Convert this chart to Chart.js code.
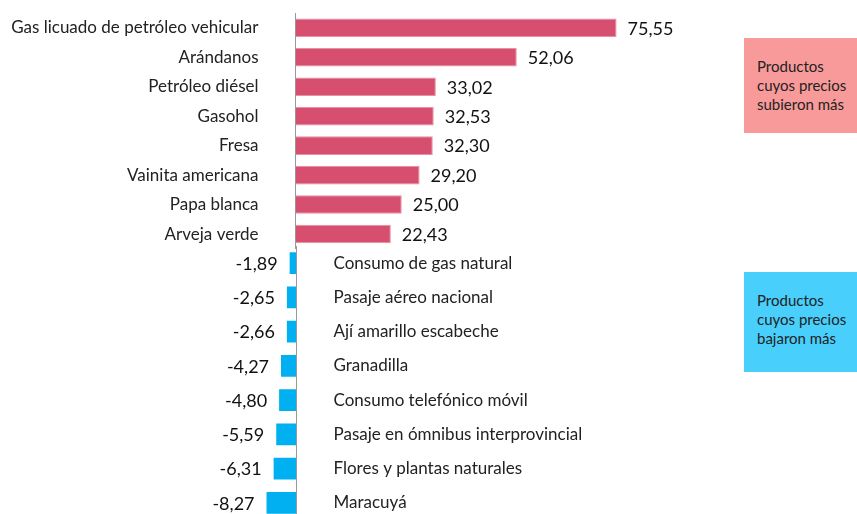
<!DOCTYPE html>
<html>
<head>
<meta charset="utf-8">
<script src="https://cdn.jsdelivr.net/npm/chart.js@4"></script>
<style>
  html, body { margin: 0; padding: 0; background: #fff; overflow: hidden; }
  body { width: 857px; height: 514px; position: relative; font-family: Lato, sans-serif; }
  canvas { position: absolute; left: 0; }
  #up { top: 0; }
  #down { top: 246px; }
  .box { position: absolute; left: 744px; width: 113px; box-sizing: border-box;
         padding: 0 0 0 13px; font-size: 15px; line-height: 19px; color: #222; }
  #boxUp { top: 38px; height: 95px; background: #f99a9a; padding-top: 19px; }
  #boxDown { top: 272px; height: 100px; background: #48cffc; padding-top: 19px; }
</style>
</head>
<body>
<canvas id="up" width="857" height="259"></canvas>
<canvas id="down" width="857" height="274"></canvas>
<div class="box" id="boxUp">Productos<br>cuyos precios<br>subieron más</div>
<div class="box" id="boxDown">Productos<br>cuyos precios<br>bajaron más</div>
<script>
const upLabels = ['Gas licuado de petróleo vehicular', 'Arándanos', 'Petróleo diésel', 'Gasohol',
  'Fresa', 'Vainita americana', 'Papa blanca', 'Arveja verde'];
const upValues = [75.55, 52.06, 33.02, 32.53, 32.30, 29.20, 25.00, 22.43];

const downLabels = ['Consumo de gas natural', 'Pasaje aéreo nacional', 'Ají amarillo escabeche',
  'Granadilla', 'Consumo telefónico móvil', 'Pasaje en ómnibus interprovincial',
  'Flores y plantas naturales', 'Maracuyá'];
const downValues = [-1.89, -2.65, -2.66, -4.27, -4.80, -5.59, -6.31, -8.27];

const FONT = 'Lato, sans-serif';
const fmt = v => v.toFixed(2).replace('.', ',');

// writes value labels (and the category labels of the lower chart) next to each bar
const barText = {
  id: 'barText',
  afterDatasetsDraw(chart) {
    const ctx = chart.ctx;
    const meta = chart.getDatasetMeta(0);
    const zero = chart.scales.x.getPixelForValue(0);
    ctx.save();
    ctx.textBaseline = 'middle';
    meta.data.forEach((bar, i) => {
      const v = chart.data.datasets[0].data[i];
      ctx.fillStyle = '#111';
      ctx.font = '18px ' + FONT;
      if (v >= 0) {
        ctx.textAlign = 'left';
        ctx.fillText(fmt(v), bar.x + 11, bar.y + 1);
      } else {
        ctx.textAlign = 'right';
        ctx.fillText(fmt(v), bar.x - 12, bar.y + 1);
        ctx.font = '17px ' + FONT;
        ctx.textAlign = 'left';
        ctx.fillStyle = '#222';
        ctx.fillText(chart.data.labels[i], zero + 37, bar.y);
      }
    });
    ctx.restore();
  }
};

new Chart(document.getElementById('up'), {
  type: 'bar',
  data: {
    labels: upLabels,
    datasets: [{ data: upValues, backgroundColor: '#d64f6e', borderColor: '#e890a4', borderWidth: 1,
      categoryPercentage: 1, barPercentage: 0.63 }]
  },
  options: {
    indexAxis: 'y',
    responsive: false,
    animation: false,
    layout: { padding: { top: 13, bottom: 0, left: 0, right: 136.5 } },
    plugins: { legend: { display: false }, tooltip: { enabled: false } },
    scales: {
      x: { min: 0, max: 100, display: false },
      y: {
        afterFit: s => { s.width = 295.5; },
        grid: { display: true, drawOnChartArea: false, drawTicks: true, tickLength: 37, tickColor: 'rgba(0,0,0,0)' },
        border: { display: true, color: '#9a9a9a', width: 1 },
        ticks: { padding: 0, color: '#222', font: { family: FONT, size: 17 } }
      }
    }
  },
  plugins: [barText]
});

new Chart(document.getElementById('down'), {
  type: 'bar',
  data: {
    labels: downLabels,
    datasets: [{ data: downValues, backgroundColor: '#00b0f0',
      categoryPercentage: 1, barPercentage: 0.635 }]
  },
  options: {
    indexAxis: 'y',
    responsive: false,
    animation: false,
    layout: { padding: { top: 0, bottom: 0, left: 224, right: 488 } },
    plugins: { legend: { display: false }, tooltip: { enabled: false } },
    scales: {
      x: {
        min: -20, max: 20,
        border: { display: false },
        grid: { drawTicks: false, color: c => c.tick && c.tick.value === 0 ? '#9a9a9a' : 'rgba(0,0,0,0)' },
        ticks: { display: false }
      },
      y: { display: false }
    }
  },
  plugins: [barText]
});
</script>
</body>
</html>
